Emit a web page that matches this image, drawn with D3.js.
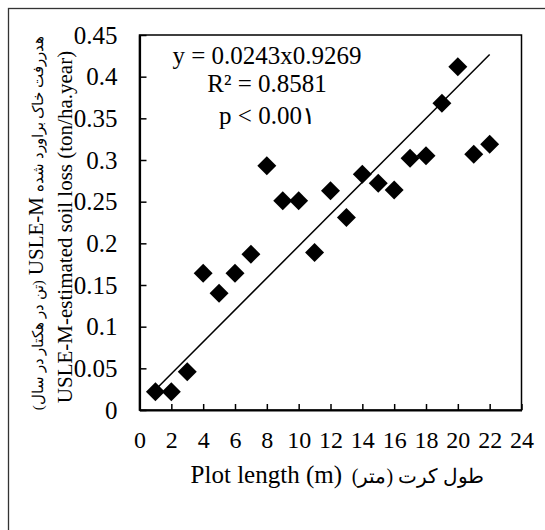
<!DOCTYPE html>
<html><head><meta charset="utf-8">
<script src="https://cdn.jsdelivr.net/npm/d3@7"></script>
<style>body{margin:0;background:#fff}svg{display:block}
svg text{font-family:"Liberation Serif","DejaVu Serif",serif;}
</style>
</head><body><svg id="c" width="545" height="530"></svg>
<script>
// ---- data ----
const plotLength = [1,2,3,4,5,6,7,8,9,10,11,12,13,14,15,16,17,18,19,20,21,22];
const soilLoss = [0.022,0.022,0.046,0.164,0.140,0.164,0.187,0.293,0.251,0.251,0.189,0.263,0.231,0.283,0.272,0.264,0.302,0.305,0.368,0.412,0.307,0.319];
const xTicks = [0,2,4,6,8,10,12,14,16,18,20,22,24];
const yTicks = [0,0.05,0.1,0.15,0.2,0.25,0.3,0.35,0.4,0.45];
const yTickLabels = ["0","0.05","0.1","0.15","0.2","0.25","0.3","0.35","0.4","0.45"];
const trendX = [1, 22];
const trendY = [0.0243, 0.4266];
const equationLines = ["y = 0.0243x0.9269", "R\u00B2 = 0.8581", "p < 0.00\u06F1"];
const xTitleEn = "Plot length (m)";
const xTitleFa = "طول کرت (متر)";
const yTitleFaTop = "هدررفت خاک براورد شده";
const yTitleMid = "USLE-M";
const yTitleFaBottom = "(تن در هکتار در سال)";
const yTitle2 = "USLE-M-estimated soil loss (ton/ha.year)";

// ---- layout ----
const svg = d3.select("#c");
const L = 139.5, R = 521.5, T = 35, B = 410;
const x = d3.scaleLinear().domain([0,24]).range([L,R]);
const y = d3.scaleLinear().domain([0,0.45]).range([B,T]);

// outer frame (only top/left visible)
svg.append("rect").attr("x",8.5).attr("y",8.5).attr("width",560).attr("height",560)
  .attr("fill","none").attr("stroke","#333").attr("stroke-width",1.3);

// plot frame
svg.append("rect").attr("x",L).attr("y",T).attr("width",R-L).attr("height",B-T)
  .attr("fill","none").attr("stroke","#000").attr("stroke-width",1.5);

// axes
const xAxis = d3.axisBottom(x).tickValues(xTicks).tickSizeInner(-6).tickSizeOuter(0).tickPadding(0).tickFormat(d3.format("d"));
const gx = svg.append("g").attr("transform",`translate(0,${B})`).call(xAxis);
gx.attr("font-family",null);
gx.select(".domain").attr("stroke","#000").attr("stroke-width",2.2);
gx.selectAll(".tick line").attr("stroke","#000").attr("stroke-width",1.5);
gx.selectAll(".tick text").attr("y",38).attr("dy",0).attr("font-size",24).attr("fill","#000");

const yAxis = d3.axisLeft(y).tickValues(yTicks).tickSizeInner(-7).tickSizeOuter(0).tickPadding(0)
  .tickFormat((d,i)=>yTickLabels[i]);
const gy = svg.append("g").attr("transform",`translate(${L},0)`).call(yAxis);
gy.attr("font-family",null);
gy.select(".domain").attr("stroke","#000").attr("stroke-width",2.2);
gy.selectAll(".tick line").attr("stroke","#000").attr("stroke-width",1.5);
gy.selectAll(".tick text").attr("x",-22).attr("dy","0.33em").attr("font-size",25).attr("fill","#000");

// trend line
svg.append("path")
  .datum(trendX.map((v,i)=>[v,trendY[i]]))
  .attr("d", d3.line().x(d=>x(d[0])).y(d=>y(d[1])))
  .attr("fill","none").attr("stroke","#000").attr("stroke-width",1.5);

// points
const sym = d3.symbol().type(d3.symbolSquare).size(180);
svg.append("g").selectAll("path").data(plotLength.map((v,i)=>[v,soilLoss[i]])).join("path")
  .attr("d", sym)
  .attr("transform", d=>`translate(${x(d[0])},${y(d[1])}) rotate(45)`)
  .attr("fill","#000");

// equation
const eqY = [64, 92, 124];
svg.append("g").selectAll("text").data(equationLines).join("text")
  .attr("x",267).attr("y",(d,i)=>eqY[i]).attr("text-anchor","middle")
  .attr("font-size",25).attr("fill","#000").text(d=>d);

// x title
svg.append("text").attr("x",342).attr("y",483).attr("text-anchor","end")
  .attr("font-size",25).attr("fill","#000").text(xTitleEn);
svg.append("text").attr("x",418).attr("y",483).attr("text-anchor","middle")
  .attr("direction","rtl").style("unicode-bidi","embed")
  .attr("font-size",20).attr("fill","#000").text(xTitleFa);

// y title line 2
svg.append("text").attr("transform","translate(72,227) rotate(-90)").attr("text-anchor","middle")
  .attr("font-size",21).attr("fill","#000").text(yTitle2);

// y title line 1 (mixed sizes)
const g1 = svg.append("g").attr("transform","translate(43,223) rotate(-90)");
const parts = [
  {t: yTitleFaBottom, fs: 15, rtl: true},
  {t: yTitleMid, fs: 21, rtl: false},
  {t: yTitleFaTop, fs: 15, rtl: true}
];
const gap = 5;
const nodes = parts.map(p=>{
  const t = g1.append("text").attr("text-anchor","middle")
    .attr("font-size",p.fs).attr("fill","#000").text(p.t);
  if (p.rtl) t.attr("direction","rtl").style("unicode-bidi","embed");
  return t;
});
const widths = nodes.map(n=>n.node().getComputedTextLength());
const W = d3.sum(widths) + gap*(widths.length-1);
let cur = -W/2;
nodes.forEach((n,i)=>{ n.attr("x", cur + widths[i]/2); cur += widths[i] + gap; });
</script>
</body></html>
